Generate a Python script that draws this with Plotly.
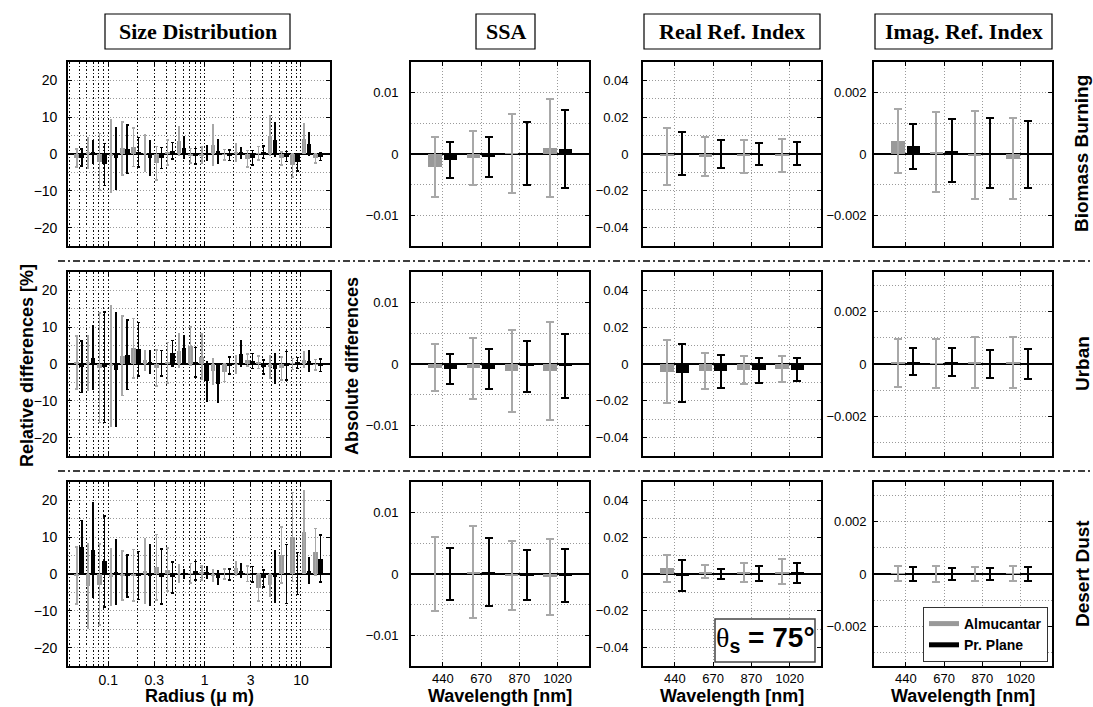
import numpy as np
import plotly.graph_objects as go
from plotly.subplots import make_subplots

# ---------------- data ----------------
radius_um = [0.05, 0.065604, 0.086077, 0.112939, 0.148184, 0.194429, 0.255105,
             0.334716, 0.439173, 0.576227, 0.756052, 0.991996, 1.301571, 1.707757,
             2.240702, 2.939966, 3.857452, 5.061260, 6.640745, 8.713145, 11.432287, 15.0]
radius_tick_um = [0.1, 0.3, 1, 3, 10]
radius_tick_text = ["0.1", "0.3", "1", "3", "10"]
radius_grid_um = [0.04, 0.05, 0.06, 0.07, 0.08, 0.09, 0.2, 0.4, 0.5, 0.6, 0.7, 0.8,
                  0.9, 2, 4, 5, 6, 7, 8, 9, 20]
radius_limits_um = [0.0382, 20]

wavelength_labels = ["440", "670", "870", "1020"]
row_names = ["Biomass Burning", "Urban", "Desert Dust"]
column_titles = ["Size Distribution", "SSA", "Real Ref. Index", "Imag. Ref. Index"]

# Size distribution relative differences [%]  (alm = Almucantar, pp = Principal Plane)
sd_bb_alm = [-1.1, 0.3, -2.1, -0.5, 1.5, 1.8, 0.2, -2.5, 0.4, 3.6, -0.5, -0.3, 2.4, -0.2, 0.3, -1.3, 0.2, 5.0, -1.2, -3.1, 4.2, -1.2]
sd_bb_alm_err = [2.4, 4.2, 7.7, 9.8, 7.2, 5.2, 5.0, 4.5, 3.4, 3.9, 2.0, 2.3, 5.5, 1.4, 2.4, 2.2, 1.8, 5.3, 1.8, 3.1, 4.0, 1.3]
sd_bb_pp = [-1.0, 0.5, -2.8, -1.2, 1.3, 0.5, -1.0, -1.1, 0.9, 1.7, -0.6, 0.2, 0.7, -0.3, 0.3, -1.0, 0.5, 3.9, -0.7, -2.2, 2.8, -0.7]
sd_bb_pp_err = [2.3, 3.1, 5.7, 8.4, 6.6, 4.0, 4.7, 2.8, 2.2, 2.9, 2.1, 2.0, 3.1, 1.4, 1.5, 2.0, 1.7, 4.5, 1.4, 2.4, 3.1, 1.1]

sd_ur_alm = [0.4, 0.3, -1.0, -0.6, 2.3, 4.3, 1.0, -1.1, 0.4, 3.6, 4.9, 2.0, -2.0, -2.3, -0.2, 1.1, 0.5, -0.8, -1.2, 0.05, 1.2, -0.2]
sd_ur_alm_err = [7.2, 7.5, 14.9, 16.4, 10.8, 8.1, 2.6, 4.9, 5.5, 4.5, 5.2, 6.2, 3.5, 2.5, 2.4, 1.6, 1.7, 3.0, 3.1, 1.5, 2.1, 1.4]
sd_ur_pp = [-0.7, 1.7, -0.9, -1.6, 2.5, 4.0, 0.5, 0.2, 2.9, 4.3, 0.5, -4.7, -5.4, -0.4, 2.8, 0.8, -0.8, -1.3, -0.5, 0.3, 0.8, -0.4]
sd_ur_pp_err = [7.0, 8.6, 15.0, 15.4, 9.4, 7.3, 3.0, 3.5, 3.5, 3.5, 4.0, 5.3, 5.1, 2.3, 3.5, 2.0, 1.9, 4.0, 3.9, 1.5, 2.9, 1.7]

sd_dd_alm = [-0.4, -3.3, -2.9, -0.8, -0.4, -0.3, 0.8, 1.8, 1.2, 0.1, 0.2, 0.3, -0.5, 0.0, 1.5, 0.1, -3.7, -2.9, 5.2, 10.0, 11.4, 6.0]
sd_dd_alm_err = [7.8, 11.5, 11.0, 7.7, 6.6, 7.0, 8.8, 8.9, 5.8, 2.3, 2.7, 1.9, 1.6, 1.4, 1.9, 2.1, 3.7, 3.1, 7.6, 12.1, 11.2, 6.3]
sd_dd_pp = [7.3, 6.6, 3.4, 0.5, -0.6, -0.4, -0.3, -0.7, -0.9, 0.0, 0.9, 0.4, -1.0, -0.1, 0.9, -0.1, -1.2, -0.8, 0.0, 0.1, 0.9, 4.2]
sd_dd_pp_err = [7.3, 12.8, 12.3, 8.7, 5.7, 6.5, 8.2, 7.5, 4.2, 1.05, 2.5, 1.6, 1.8, 1.5, 1.8, 2.1, 2.3, 7.0, 8.0, 5.7, 3.4, 6.4]

# Single scattering albedo absolute differences
ssa_bb_alm = [-0.0021, -0.00065, 0.0001, 0.001]
ssa_bb_alm_err = [0.0049, 0.00445, 0.0064, 0.008]
ssa_bb_pp = [-0.001, -0.00045, 0.0001, 0.0008]
ssa_bb_pp_err = [0.0029, 0.0033, 0.0051, 0.0064]
ssa_ur_alm = [-0.0006, -0.0007, -0.0012, -0.0011]
ssa_ur_alm_err = [0.0038, 0.005, 0.0067, 0.008]
ssa_ur_pp = [-0.0008, -0.0008, -0.0004, -0.0003]
ssa_ur_pp_err = [0.0025, 0.0032, 0.0042, 0.0052]
ssa_dd_alm = [0.0, 0.0004, -0.0003, -0.0005]
ssa_dd_alm_err = [0.0061, 0.0075, 0.0056, 0.0062]
ssa_dd_pp = [0.0, 0.0003, -0.0002, -0.0003]
ssa_dd_pp_err = [0.0043, 0.0055, 0.0041, 0.0043]

# Real refractive index absolute differences
re_bb_alm = [-0.0012, -0.0015, -0.0012, -0.0009]
re_bb_alm_err = [0.0156, 0.0107, 0.009, 0.0091]
re_bb_pp = [0.0002, 0.0, 0.0, 0.0003]
re_bb_pp_err = [0.0118, 0.0077, 0.0062, 0.0063]
re_ur_alm = [-0.0042, -0.0036, -0.0032, -0.0028]
re_ur_alm_err = [0.017, 0.0098, 0.0077, 0.0069]
re_ur_pp = [-0.0049, -0.004, -0.0035, -0.0031]
re_ur_pp_err = [0.0156, 0.0088, 0.0069, 0.0061]
re_dd_alm = [0.003, 0.0013, 0.001, 0.0012]
re_dd_alm_err = [0.0072, 0.0034, 0.0052, 0.0068]
re_dd_pp = [-0.0006, 0.0, 0.0004, 0.0006]
re_dd_pp_err = [0.0084, 0.0026, 0.0042, 0.0056]

# Imaginary refractive index absolute differences
im_bb_alm = [0.00043, 0.00006, -0.00004, -0.00015]
im_bb_alm_err = [0.00104, 0.00131, 0.00143, 0.00131]
im_bb_pp = [0.00025, 0.00011, 0.00002, -0.00003]
im_bb_pp_err = [0.00073, 0.00102, 0.00114, 0.00109]
im_ur_alm = [0.00004, 0.00003, 0.00005, 0.00004]
im_ur_alm_err = [0.0009, 0.00094, 0.00097, 0.00097]
im_ur_pp = [0.00009, 0.00006, 0.00001, 0.0]
im_ur_pp_err = [0.00051, 0.00053, 0.00054, 0.00056]
im_dd_alm = [0.00002, 0.0, 0.0, 0.00002]
im_dd_alm_err = [0.00028, 0.00031, 0.00027, 0.00029]
im_dd_pp = [0.0, 0.0, 0.0, 0.0]
im_dd_pp_err = [0.00025, 0.00024, 0.00022, 0.00025]

# axis limits (y) per column / row
sd_ylim = 25
ssa_ylim = 0.015
re_ylim = 0.05
im_ylims = [0.003, 0.0035, 0.0035]

# ---------------- styling ----------------
W, H = 1093, 707
GRAY = "#999999"
GRAY_ERR = "#a8a8a8"
BLACK = "#000000"
SANS = "Liberation Sans, Arial, sans-serif"
NARROW = "Liberation Sans Narrow, Liberation Sans, Arial, sans-serif"
SERIF = "Liberation Serif, Times New Roman, serif"

col_px = [(68, 330), (411, 589), (643, 821), (874, 1052)]
row_px = [(62, 246), (272, 456), (482, 666)]


def xdom(a, b):
    return [a / W, b / W]


def ydom(a, b):
    return [1 - b / H, 1 - a / H]


fig = make_subplots(rows=3, cols=4)

SD_OFF = 0.026   # half-separation of the two bars (decades)
SD_W = 0.048     # bar width (decades)
SM_OFF = 0.2
SM_W = 0.35

log_r = np.log10(radius_um)
cat_x = np.arange(1, len(wavelength_labels) + 1)


def add_pair(row, col, xs, off, width, alm, alm_e, pp, pp_e, thick, capw):
    fig.add_trace(go.Bar(x=xs - off, y=alm, width=width, base=0,
                         marker=dict(color=GRAY, line=dict(width=0)),
                         error_y=dict(type="data", array=alm_e, color=GRAY_ERR,
                                      thickness=thick, width=capw),
                         showlegend=False, hoverinfo="skip"), row=row, col=col)
    fig.add_trace(go.Bar(x=xs + off, y=pp, width=width, base=0,
                         marker=dict(color=BLACK, line=dict(width=0)),
                         error_y=dict(type="data", array=pp_e, color=BLACK,
                                      thickness=thick, width=capw),
                         showlegend=False, hoverinfo="skip"), row=row, col=col)


sd_data = [(sd_bb_alm, sd_bb_alm_err, sd_bb_pp, sd_bb_pp_err),
           (sd_ur_alm, sd_ur_alm_err, sd_ur_pp, sd_ur_pp_err),
           (sd_dd_alm, sd_dd_alm_err, sd_dd_pp, sd_dd_pp_err)]
ssa_data = [(ssa_bb_alm, ssa_bb_alm_err, ssa_bb_pp, ssa_bb_pp_err),
            (ssa_ur_alm, ssa_ur_alm_err, ssa_ur_pp, ssa_ur_pp_err),
            (ssa_dd_alm, ssa_dd_alm_err, ssa_dd_pp, ssa_dd_pp_err)]
re_data = [(re_bb_alm, re_bb_alm_err, re_bb_pp, re_bb_pp_err),
           (re_ur_alm, re_ur_alm_err, re_ur_pp, re_ur_pp_err),
           (re_dd_alm, re_dd_alm_err, re_dd_pp, re_dd_pp_err)]
im_data = [(im_bb_alm, im_bb_alm_err, im_bb_pp, im_bb_pp_err),
           (im_ur_alm, im_ur_alm_err, im_ur_pp, im_ur_pp_err),
           (im_dd_alm, im_dd_alm_err, im_dd_pp, im_dd_pp_err)]

for r in range(3):
    add_pair(r + 1, 1, log_r, SD_OFF, SD_W, *sd_data[r], thick=1.5, capw=1.3)
    add_pair(r + 1, 2, cat_x, SM_OFF, SM_W, *ssa_data[r], thick=2, capw=4)
    add_pair(r + 1, 3, cat_x, SM_OFF, SM_W, *re_data[r], thick=2, capw=4)
    add_pair(r + 1, 4, cat_x, SM_OFF, SM_W, *im_data[r], thick=2, capw=4)

# legend entries (line swatches like the original)
fig.add_trace(go.Scatter(x=[None], y=[None], mode="lines", line=dict(color=GRAY, width=5),
                         name="<b>Almucantar</b>", showlegend=True), row=3, col=4)
fig.add_trace(go.Scatter(x=[None], y=[None], mode="lines", line=dict(color=BLACK, width=5),
                         name="<b>Pr. Plane</b>", showlegend=True), row=3, col=4)

axis_common = dict(showline=True, linecolor="black", linewidth=1.6, mirror="ticks",
                   ticks="inside", ticklen=4, tickcolor="black", tickwidth=1)
hgrid = dict(showgrid=True, gridcolor="#9a9a9a", gridwidth=1, griddash="1px,2px")

ytick_standoff = [6, 8, 10, 3]
ytick_size = [14, 13, 13, 13]

for r in range(3):
    for c in range(4):
        rr, cc = r + 1, c + 1
        # ---------- x axes ----------
        if c == 0:
            fig.update_xaxes(
                domain=xdom(*col_px[c]),
                range=list(np.log10(radius_limits_um)),
                tickmode="array", tickvals=list(np.log10(radius_tick_um)),
                ticktext=radius_tick_text, showticklabels=(r == 2),
                tickfont=dict(family=NARROW, size=14, color="black"),
                showgrid=True, gridcolor="#111111", gridwidth=1, griddash="1.5px,2px",
                minor=dict(tickmode="array", tickvals=list(np.log10(radius_grid_um)),
                           ticks="inside", ticklen=2, tickcolor="black",
                           showgrid=True, gridcolor="#111111", gridwidth=1,
                           griddash="1.5px,2px"),
                zeroline=False, row=rr, col=cc, **axis_common)
        else:
            fig.update_xaxes(
                domain=xdom(*col_px[c]), range=[0.17, 4.82],
                tickmode="array", tickvals=list(cat_x), ticktext=wavelength_labels,
                showticklabels=(r == 2), zeroline=False,
                tickfont=dict(family=NARROW, size=13, color="black"),
                row=rr, col=cc, **axis_common, **hgrid)
        # ---------- y axes ----------
        if c == 0:
            lim, dt = sd_ylim, 10
        elif c == 1:
            lim, dt = ssa_ylim, 0.01
        elif c == 2:
            lim, dt = re_ylim, 0.02
        else:
            lim, dt = im_ylims[r], 0.002
        fig.update_yaxes(
            domain=ydom(*row_px[r]), range=[-lim, lim],
            tickmode="linear", tick0=0, dtick=dt,
            minor=dict(tickmode="linear", tick0=0, dtick=dt / 2, ticks="",
                       showgrid=True, gridcolor="#9a9a9a", gridwidth=1, griddash="1px,2px"),
            zeroline=True, zerolinecolor="black", zerolinewidth=1.6,
            ticklabelstandoff=ytick_standoff[c],
            tickfont=dict(family=NARROW, size=ytick_size[c], color="black"),
            row=rr, col=cc, **axis_common, **hgrid)

# ---------------- decorations ----------------
shapes = []
annotations = []

# title boxes
title_boxes = [(105, 290), (476, 535), (644, 820), (875, 1052)]
for (x0, x1), t in zip(title_boxes, column_titles):
    shapes.append(dict(type="rect", xref="paper", yref="paper",
                       x0=x0 / W, x1=x1 / W, y0=1 - 49 / H, y1=1 - 14 / H,
                       line=dict(color="black", width=1.2), fillcolor="white"))
    annotations.append(dict(text="<b>%s</b>" % t, xref="paper", yref="paper",
                            x=(x0 + x1) / 2 / W, y=1 - 31.5 / H, showarrow=False,
                            font=dict(family=SERIF, size=22, color="black"),
                            xanchor="center", yanchor="middle"))

# dash-dot separators between rows
for yy in (261, 471):
    shapes.append(dict(type="line", xref="paper", yref="paper",
                       x0=58 / W, x1=1.0, y0=1 - yy / H, y1=1 - yy / H,
                       line=dict(color="black", width=1.3, dash="7px,3px,2px,3px")))

# row labels
row_centers = [154, 364, 574]
for name, yc in zip(row_names, row_centers):
    annotations.append(dict(text="<b>%s</b>" % name, xref="paper", yref="paper",
                            x=1082 / W, y=1 - yc / H, textangle=-90, showarrow=False,
                            font=dict(family=SANS, size=19, color="black"),
                            xanchor="center", yanchor="middle"))

# y labels
annotations.append(dict(text="<b>Relative differences [%]</b>", xref="paper", yref="paper",
                        x=27 / W, y=1 - 366 / H, textangle=-90, showarrow=False,
                        font=dict(family=SANS, size=18, color="black"),
                        xanchor="center", yanchor="middle"))
annotations.append(dict(text="<b>Absolute differences</b>", xref="paper", yref="paper",
                        x=352 / W, y=1 - 366 / H, textangle=-90, showarrow=False,
                        font=dict(family=SANS, size=18, color="black"),
                        xanchor="center", yanchor="middle"))

# x labels
annotations.append(dict(text="<b>Radius (\u03bc m)</b>", xref="paper", yref="paper",
                        x=199 / W, y=1 - 696 / H, showarrow=False,
                        font=dict(family=SANS, size=18, color="black"),
                        xanchor="center", yanchor="middle"))
for c in range(1, 4):
    xc = (col_px[c][0] + col_px[c][1]) / 2
    annotations.append(dict(text="<b>Wavelength [nm]</b>", xref="paper", yref="paper",
                            x=xc / W, y=1 - 696 / H, showarrow=False,
                            font=dict(family=SANS, size=18, color="black"),
                            xanchor="center", yanchor="middle"))

# theta_s box
shapes.append(dict(type="rect", xref="paper", yref="paper",
                   x0=715 / W, x1=815 / W, y0=1 - 662 / H, y1=1 - 619 / H,
                   line=dict(color="#444444", width=1.5), fillcolor="white"))
annotations.append(dict(
    text="<span style='font-family:Liberation Serif'>\u03b8</span><sub><b>s</b></sub><b> = 75\u00b0</b>",
    xref="paper", yref="paper", x=765 / W, y=1 - 639 / H, showarrow=False,
    font=dict(family=SANS, size=28, color="black"), xanchor="center", yanchor="middle"))

fig.update_layout(
    width=W, height=H, margin=dict(l=0, r=0, t=0, b=0),
    plot_bgcolor="white", paper_bgcolor="white",
    barmode="overlay", bargap=0,
    font=dict(family=SANS, color="black"),
    shapes=shapes, annotations=annotations,
    showlegend=True,
    legend=dict(x=1048 / W, xanchor="right", y=1 - 607 / H, yanchor="top",
                bgcolor="white", bordercolor="#333333", borderwidth=1,
                font=dict(family=SANS, size=14, color="black"),
                tracegroupgap=0, itemwidth=30),
)

fig.write_html("out.html", config={"displayModeBar": False},
               post_script="document.body.style.margin='0px';document.body.style.overflow='hidden';")
